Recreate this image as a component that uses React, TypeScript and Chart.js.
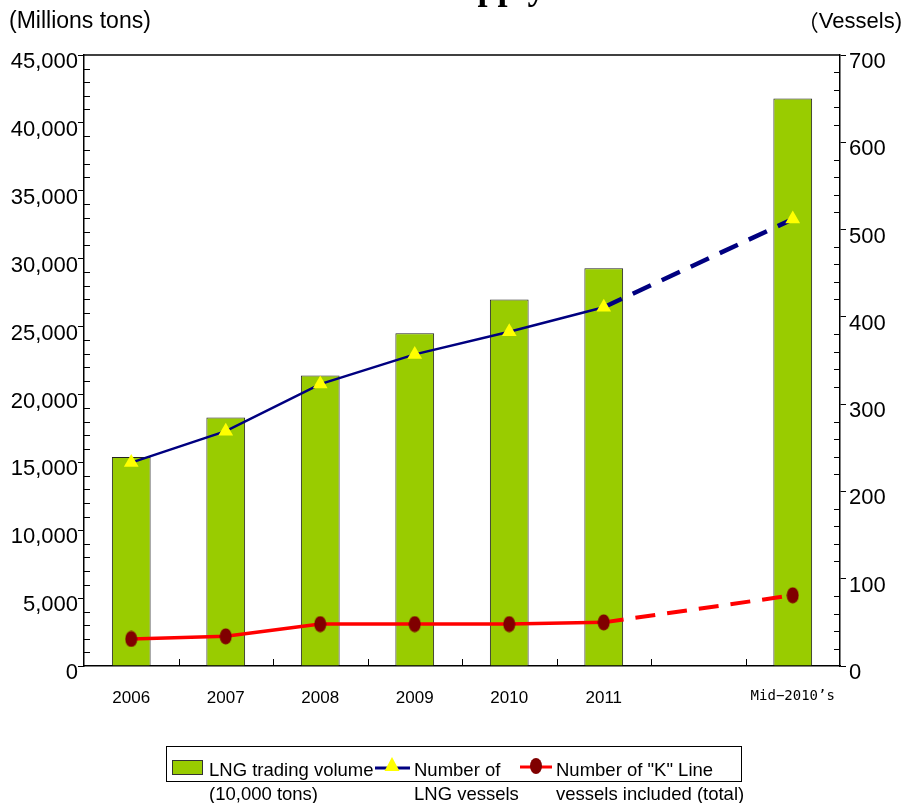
import React, { useEffect, useRef } from 'react';
import { Chart, registerables } from 'chart.js';

Chart.register(...registerables);

const categories = ['2006', '2007', '2008', '2009', '2010', '2011', '', 'Mid−2010’s'];
const lngTradingVolume = [15400, 18300, 21400, 24500, 27000, 29300, null, 41800];
const lngVessels = [233, 269, 323, 357, 383, 411, null, 512];
const kLineVessels = [31, 34, 48, 48, 48, 50, null, 81];

const leftMax = 45000;
const leftStep = 5000;
const leftMinorStep = 1000;
const rightMax = 700;
const rightStep = 100;
const rightMinorStep = 20;

const titleText = 'LNG Supply';
const leftAxisTitle = '(Millions tons)';
const rightAxisTitle = '（Vessels)';
const legendLabels = [
  ['LNG trading volume', '(10,000 tons)'],
  ['Number of', 'LNG vessels'],
  ['Number of "K" Line', 'vessels included (total)'],
];

const SANS = '"Liberation Sans", Arial, "Noto Sans CJK JP", sans-serif';
const CJK = '"Noto Sans CJK JP", sans-serif';
const GREEN = '#99CC00';
const NAVY = '#000080';
const RED = '#FF0000';
const DARKRED = '#800000';
const YELLOW = '#FFFF00';

function makeEllipse(): HTMLCanvasElement {
  const c = document.createElement('canvas');
  c.width = 13;
  c.height = 17;
  const g = c.getContext('2d')!;
  g.fillStyle = DARKRED;
  g.beginPath();
  g.ellipse(6.5, 8.5, 6, 8, 0, 0, Math.PI * 2);
  g.fill();
  return c;
}

const decorPlugin = {
  id: 'decor',
  afterDraw(chart: any) {
    const { ctx, chartArea, scales } = chart;
    const { left, right, top, bottom } = chartArea;
    ctx.save();
    ctx.strokeStyle = '#000';
    ctx.lineWidth = 1.5;
    // top border
    ctx.beginPath();
    ctx.moveTo(left, top);
    ctx.lineTo(right, top);
    ctx.stroke();
    ctx.lineWidth = 1;
    // left minor ticks (inward)
    for (let v = leftMinorStep; v < leftMax; v += leftMinorStep) {
      if (v % leftStep === 0) continue;
      const y = Math.round(scales.y.getPixelForValue(v)) + 0.5;
      ctx.beginPath();
      ctx.moveTo(left, y);
      ctx.lineTo(left + 6, y);
      ctx.stroke();
    }
    // right minor ticks (inward)
    for (let v = rightMinorStep; v < rightMax; v += rightMinorStep) {
      if (v % rightStep === 0) continue;
      const y = Math.round(scales.y1.getPixelForValue(v)) + 0.5;
      ctx.beginPath();
      ctx.moveTo(right - 6, y);
      ctx.lineTo(right, y);
      ctx.stroke();
    }
    // x category boundary ticks (inward)
    for (let i = 1; i < categories.length; i++) {
      const x = Math.round((scales.x.getPixelForValue(i - 1) + scales.x.getPixelForValue(i)) / 2) + 0.5;
      ctx.beginPath();
      ctx.moveTo(x, bottom);
      ctx.lineTo(x, bottom - 7);
      ctx.stroke();
    }
    // axis titles
    ctx.fillStyle = '#000';
    ctx.font = `23px ${SANS}`;
    ctx.textBaseline = 'middle';
    ctx.textAlign = 'left';
    ctx.fillText(leftAxisTitle, 9, 22);
    // right title: full-width paren in CJK font, the rest in Latin font
    const parenPart = rightAxisTitle.slice(0, 1);
    const restPart = rightAxisTitle.slice(1);
    ctx.font = `22px ${SANS}`;
    const restW = ctx.measureText(restPart).width;
    ctx.textAlign = 'right';
    ctx.fillText(restPart, 902, 22);
    ctx.font = `22px ${CJK}`;
    ctx.fillText(parenPart, 902 - restW, 22);
    // title (mostly above the canvas)
    ctx.font = 'bold 36px "Liberation Serif", "Times New Roman", serif';
    ctx.textAlign = 'center';
    ctx.textBaseline = 'alphabetic';
    ctx.fillText(titleText, 448, -1);

    // legend
    ctx.lineWidth = 1;
    ctx.strokeStyle = '#000';
    ctx.strokeRect(166.5, 746.5, 575, 35);
    // swatch
    ctx.fillStyle = GREEN;
    ctx.fillRect(172, 760, 31, 15);
    ctx.strokeStyle = '#333';
    ctx.strokeRect(172.5, 760.5, 30, 14);
    // blue line marker
    ctx.strokeStyle = NAVY;
    ctx.lineWidth = 3;
    ctx.beginPath();
    ctx.moveTo(375, 768);
    ctx.lineTo(410, 768);
    ctx.stroke();
    ctx.fillStyle = YELLOW;
    ctx.beginPath();
    ctx.moveTo(392, 757);
    ctx.lineTo(399.5, 771);
    ctx.lineTo(384.5, 771);
    ctx.closePath();
    ctx.fill();
    // red line marker
    ctx.strokeStyle = RED;
    ctx.beginPath();
    ctx.moveTo(520, 767);
    ctx.lineTo(552, 767);
    ctx.stroke();
    ctx.fillStyle = DARKRED;
    ctx.beginPath();
    ctx.ellipse(536, 766, 6, 8, 0, 0, Math.PI * 2);
    ctx.fill();
    // legend text
    ctx.fillStyle = '#000';
    ctx.font = `18.5px ${SANS}`;
    ctx.textAlign = 'left';
    ctx.textBaseline = 'middle';
    const xs = [209, 414, 556];
    legendLabels.forEach((lines, i) => {
      ctx.fillText(lines[0], xs[i], 771);
      ctx.fillText(lines[1], xs[i], 795);
    });
    ctx.restore();
  },
};

export default function App() {
  const ref = useRef<HTMLCanvasElement>(null);
  useEffect(() => {
    if (!ref.current) return;
    const ellipse = makeEllipse();
    const dashIfLast = (w1: number, w2: number) => ({
      borderDash: (c: any) => (c.p1DataIndex === categories.length - 1 ? [20, 12] : undefined),
      borderWidth: (c: any) => (c.p1DataIndex === categories.length - 1 ? w2 : w1),
    });
    const chart = new Chart(ref.current, {
      type: 'bar',
      data: {
        labels: categories,
        datasets: [
          {
            type: 'line',
            label: 'Number of "K" Line vessels included (total)',
            data: kLineVessels,
            yAxisID: 'y1',
            borderColor: RED,
            borderWidth: 3.5,
            spanGaps: true,
            segment: dashIfLast(3.5, 4),
            pointStyle: ellipse as any,
            pointRadius: 8,
            order: 1,
          } as any,
          {
            type: 'line',
            label: 'Number of LNG vessels',
            data: lngVessels,
            yAxisID: 'y1',
            borderColor: NAVY,
            borderWidth: 2.5,
            spanGaps: true,
            segment: dashIfLast(2.5, 4.5),
            pointStyle: 'triangle',
            pointRadius: 8.5,
            pointBackgroundColor: YELLOW,
            pointBorderColor: YELLOW,
            pointBorderWidth: 0,
            order: 2,
          } as any,
          {
            type: 'bar',
            label: 'LNG trading volume (10,000 tons)',
            data: lngTradingVolume,
            yAxisID: 'y',
            backgroundColor: GREEN,
            borderColor: '#222',
            borderWidth: 1,
            barPercentage: 0.41,
            categoryPercentage: 1,
            order: 3,
          } as any,
        ],
      },
      options: {
        responsive: false,
        animation: false,
        layout: { padding: { top: 55, left: 0, right: 0, bottom: 0 } },
        plugins: {
          legend: { display: false },
          title: { display: false },
          tooltip: { enabled: false },
        },
        scales: {
          x: {
            offset: true,
            grid: { display: true, drawOnChartArea: false, drawTicks: false, color: '#000' },
            border: { display: true, color: '#000', width: 1.5 },
            ticks: {
              autoSkip: false,
              maxRotation: 0,
              padding: 22,
              color: '#000',
              font: (c: any) =>
                c.index === categories.length - 1
                  ? { family: '"DejaVu Sans Mono", monospace', size: 14 }
                  : { family: SANS, size: 17 },
            },
            afterFit: (s: any) => {
              s.height = 137;
            },
          },
          y: {
            position: 'left',
            min: 0,
            max: leftMax,
            ticks: {
              stepSize: leftStep,
              color: '#000',
              padding: 0,
              labelOffset: 7,
              font: { family: SANS, size: 22 },
              callback: (v: any) => Number(v).toLocaleString('en-US'),
            },
            grid: { drawOnChartArea: false, drawTicks: true, tickLength: 6, color: '#000' },
            border: { display: true, color: '#000', width: 1.5 },
            afterFit: (s: any) => {
              s.width = 84;
            },
          },
          y1: {
            position: 'right',
            min: 0,
            max: rightMax,
            ticks: {
              stepSize: rightStep,
              color: '#000',
              padding: 3,
              labelOffset: 7,
              font: { family: SANS, size: 22 },
            },
            grid: { drawOnChartArea: false, drawTicks: true, tickLength: 6, color: '#000' },
            border: { display: true, color: '#000', width: 1.5 },
            afterFit: (s: any) => {
              s.width = 66;
            },
          },
        },
      },
      plugins: [decorPlugin],
    });
    return () => chart.destroy();
  }, []);
  return (
    <div style={{ position: 'absolute', left: 0, top: 0, width: 906, height: 803, background: '#fff' }}>
      <canvas ref={ref} width={906} height={803} style={{ display: 'block' }} />
    </div>
  );
}
